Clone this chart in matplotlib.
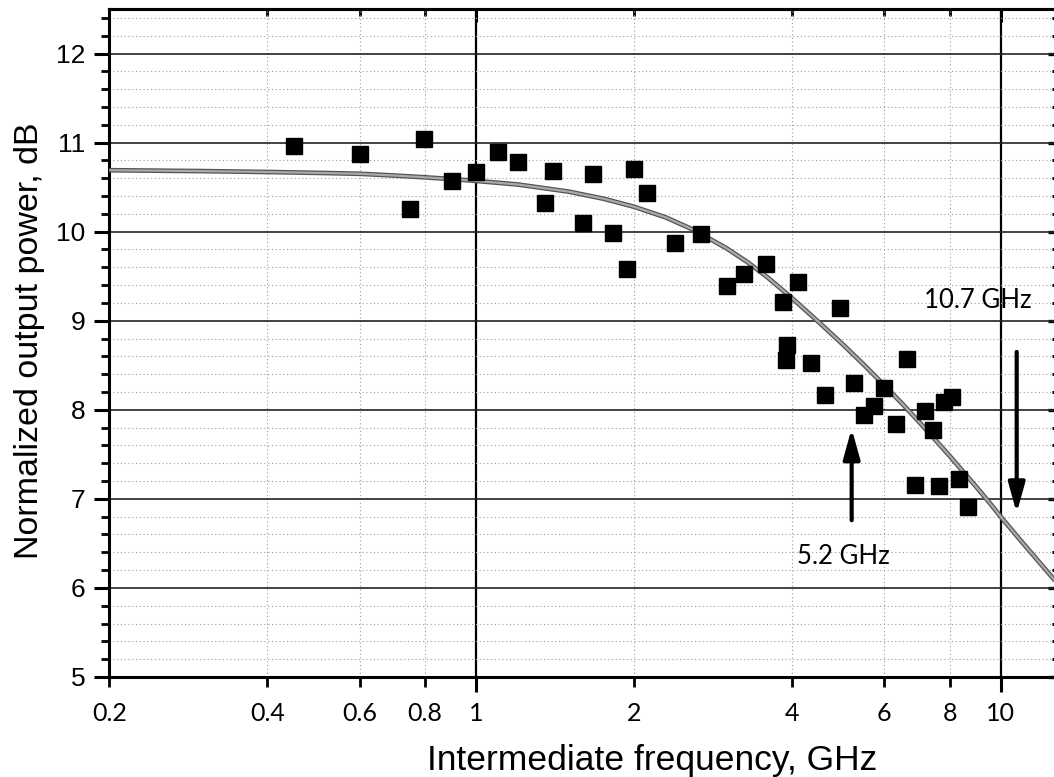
import matplotlib
matplotlib.use('Agg')
import matplotlib.pyplot as plt
from matplotlib.ticker import FixedLocator, NullFormatter

# measured points (IF frequency in GHz, normalized output power in dB)
freq = [0.449, 0.601, 0.748, 0.797, 0.90, 1.0, 1.10, 1.201, 1.353, 1.402,
        1.600, 1.670, 1.825, 1.942, 2.0, 2.114, 2.40, 2.69, 3.01, 3.24,
        3.57, 3.84, 3.89, 3.91, 4.11, 4.35, 4.63, 4.94, 5.26, 5.49,
        5.74, 5.99, 6.32, 6.62, 6.88, 7.18, 7.43, 7.63, 7.81, 8.07,
        8.33, 8.65]
power = [10.96, 10.87, 10.25, 11.04, 10.57, 10.67, 10.90, 10.78, 10.32, 10.68,
         10.10, 10.65, 9.99, 9.58, 10.70, 10.43, 9.87, 9.97, 9.39, 9.53,
         9.64, 9.21, 8.56, 8.73, 9.44, 8.53, 8.17, 9.14, 8.30, 7.94,
         8.04, 8.25, 7.84, 8.57, 7.16, 7.99, 7.77, 7.15, 8.09, 8.14,
         7.22, 6.91]

# fitted curve
fit_f = [0.2, 0.3, 0.4, 0.5, 0.6, 0.7, 0.8, 0.9, 1.0, 1.2, 1.5, 1.75, 2.0,
         2.3, 2.6, 3.0, 3.3, 3.6, 4.0, 4.5, 5.0, 5.5, 6.0, 6.5, 7.0, 7.5,
         8.0, 8.5, 9.0, 9.5, 10.0, 11.0, 12.0, 12.75]
fit_p = [10.69, 10.68, 10.67, 10.66, 10.65, 10.63, 10.61, 10.59, 10.57, 10.53,
         10.45, 10.37, 10.28, 10.16, 10.02, 9.815, 9.654, 9.484, 9.255, 8.985,
         8.735, 8.50, 8.275, 8.065, 7.86, 7.665, 7.48, 7.30, 7.13, 6.965,
         6.80, 6.51, 6.25, 6.07]

# x ticks
x_major = [1, 10]
x_minor = [0.2, 0.4, 0.6, 0.8, 2, 4, 6, 8]
x_major_lbl = ['1', '10']
x_minor_lbl = ['0.2', '0.4', '0.6', '0.8', '2', '4', '6', '8']
y_major = [5, 6, 7, 8, 9, 10, 11, 12]
y_major_lbl = ['5', '6', '7', '8', '9', '10', '11', '12']
y_minor = [5 + 0.2 * i for i in range(38)]

# annotations: (label, arrow freq, tail y, tip y, text x, text y)
ann_52 = ('5.2 GHz', 5.2, 6.76, 7.79, 5.01, 6.35)
ann_107 = ('10.7 GHz', 10.73, 8.65, 6.84, 9.06, 9.23)

fig = plt.figure(figsize=(10.54, 7.77), dpi=100)
ax = fig.add_axes([109.3 / 1054, 100 / 777, (1056 - 109.3) / 1054, 668 / 777])
ax.set_xscale('log')
ax.set_xlim(0.2, 12.75)
ax.set_ylim(5, 12.5)

# ticks and labels
ax.set_xticks(x_major, labels=x_major_lbl, fontsize=18, family='Lato')
ax.set_xticks(x_minor, labels=x_minor_lbl, minor=True, fontsize=18,
              family='Lato')
ax.set_yticks(y_major, labels=y_major_lbl, fontsize=19,
              family='Liberation Sans')
ax.yaxis.set_minor_locator(FixedLocator(y_minor))
ax.yaxis.set_minor_formatter(NullFormatter())

# grid
ax.grid(True, which='major', axis='y', color='#222222', lw=1.2, ls='-')
ax.grid(True, which='major', axis='x', color='#000000', lw=1.6, ls='-')
ax.grid(True, which='minor', axis='both', color='#9c9c9c', lw=0.8,
        ls=(0, (1, 2.4)))
ax.set_axisbelow(True)

for side in ['left', 'bottom', 'top']:
  ax.spines[side].set_linewidth(2.2)
ax.spines['right'].set_visible(False)

# tick lengths in points (dpi 100 -> 1 pt = 1.39 px)
ax.tick_params(axis='y', which='major', direction='out', length=10.8,
               width=2.2, pad=6.5)
ax.tick_params(axis='y', which='minor', direction='out', length=5.8, width=2.0)
ax.tick_params(axis='x', which='major', direction='out', length=10.8,
               width=2.2, pad=7.0)
ax.tick_params(axis='x', which='minor', direction='out', length=7.2, width=2.0,
               pad=10.6)

# inward ticks on top and right
top = ax.secondary_xaxis('top')
top.xaxis.set_major_locator(FixedLocator(x_major))
top.xaxis.set_minor_locator(FixedLocator(x_minor))
top.xaxis.set_major_formatter(NullFormatter())
top.xaxis.set_minor_formatter(NullFormatter())
top.tick_params(which='major', direction='in', length=9.4, width=2.2)
top.tick_params(which='minor', direction='in', length=5, width=2.0)
top.spines['top'].set_linewidth(2.2)

right = ax.secondary_yaxis('right')
right.yaxis.set_major_locator(FixedLocator(y_major))
right.yaxis.set_minor_locator(FixedLocator(y_minor))
right.yaxis.set_major_formatter(NullFormatter())
right.yaxis.set_minor_formatter(NullFormatter())
right.tick_params(which='major', direction='in', length=6, width=2.4)
right.tick_params(which='minor', direction='in', length=3, width=2.2)

# fit curve and data
ax.plot(fit_f, fit_p, color='#555555', lw=3.4, solid_capstyle='butt', zorder=3)
ax.plot(fit_f, fit_p, color='#aaaaaa', lw=1.6, solid_capstyle='butt', zorder=3)
ax.plot(freq, power, ls='none', marker='s', ms=11, color='black', zorder=4)

# arrows and labels
for lbl, fx, y0, y1, tx, ty in [ann_52, ann_107]:
  ax.annotate('', xy=(fx, y1), xytext=(fx, y0),
              arrowprops=dict(arrowstyle='-|>,head_length=0.9,head_width=0.25',
                              lw=3, color='black', mutation_scale=20,
                              shrinkA=0, shrinkB=0), zorder=5)
  ax.text(tx, ty, lbl, ha='center', va='center', fontsize=18.5,
          family='Lato', zorder=5)

ax.set_xlabel('Intermediate frequency, GHz', fontsize=25.5,
              family='Liberation Sans')
ax.xaxis.set_label_coords(0.573, -0.1)
ax.set_ylabel('Normalized output power, dB', fontsize=24.5,
              family='Liberation Sans')
ax.yaxis.set_label_coords(-0.068, 0.503)

fig.savefig('out.png', dpi=100)
